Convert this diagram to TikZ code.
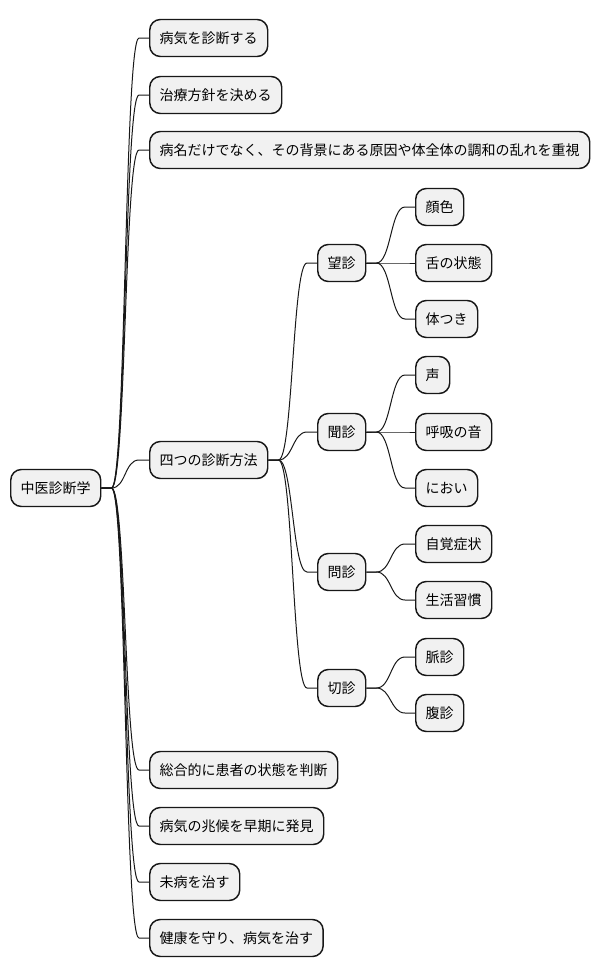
\documentclass[tikz,border=0pt]{standalone}
\usepackage{fontspec}
\usepackage{tikz}
\usetikzlibrary{positioning, calc}
\newfontfamily\cjk{Noto Sans CJK JP}
\definecolor{BoxFill}{HTML}{F1F1F1}
\definecolor{LineDark}{HTML}{181818}

\tikzset{
  topic/.style={draw=LineDark, fill=BoxFill, line width=1.1pt, rounded corners=8pt,
                anchor=west, inner xsep=7.5pt, inner ysep=0pt, minimum height=27.75pt,
                font=\cjk\fontsize{10.5pt}{12pt}\selectfont, text=black},
  branch/.style={draw=LineDark, line width=0.75pt,
                 to path={-- ([xshift=7.5pt]\tikztostart)
                   .. controls ([xshift=18.4pt]\tikztostart) and ([xshift=-18.4pt]\tikztotarget)
                   .. ([xshift=-7.5pt]\tikztotarget) -- (\tikztotarget)}}
}

\begin{document}
\begin{tikzpicture}[x=0.75pt, y=-0.75pt]
    \useasboundingbox (0,0) rectangle (600,978);

    % Root
    \node[topic] (root) at (10,488) {中医診断学};

    % First level
    \node[topic] (shindan) at (149,38)  {病気を診断する};
    \node[topic] (houshin) at (149,95)  {治療方針を決める};
    \node[topic] (haikei)  at (149,150) {病名だけでなく、その背景にある原因や体全体の調和の乱れを重視};
    \node[topic] (yotsu)   at (149,460) {四つの診断方法};
    \node[topic] (sougou)  at (149,770) {総合的に患者の状態を判断};
    \node[topic] (souki)   at (149,826) {病気の兆候を早期に発見};
    \node[topic] (mibyou)  at (149,882) {未病を治す};
    \node[topic] (kenkou)  at (149,938) {健康を守り、病気を治す};

    % Four methods
    \node[topic] (bou)   at (317,263) {望診};
    \node[topic] (bun)   at (317,432) {聞診};
    \node[topic] (mon)   at (317,572) {問診};
    \node[topic] (setsu) at (317,688) {切診};

    % Details
    \node[topic] (kaoiro)   at (415,207) {顔色};
    \node[topic] (shita)    at (415,263) {舌の状態};
    \node[topic] (karada)   at (415,319) {体つき};
    \node[topic] (koe)      at (415,375) {声};
    \node[topic] (kokyu)    at (415,432) {呼吸の音};
    \node[topic] (nioi)     at (415,488) {におい};
    \node[topic] (jikaku)   at (415,544) {自覚症状};
    \node[topic] (seikatsu) at (415,600) {生活習慣};
    \node[topic] (myaku)    at (415,657) {脈診};
    \node[topic] (fuku)     at (415,713) {腹診};

    % Links
    \foreach \c in {shindan,houshin,haikei,yotsu,sougou,souki,mibyou,kenkou}
        \draw[branch] (root.east) to (\c.west);
    \foreach \c in {bou,bun,mon,setsu}
        \draw[branch] (yotsu.east) to (\c.west);
    \foreach \c in {kaoiro,shita,karada}
        \draw[branch] (bou.east) to (\c.west);
    \foreach \c in {koe,kokyu,nioi}
        \draw[branch] (bun.east) to (\c.west);
    \foreach \c in {jikaku,seikatsu}
        \draw[branch] (mon.east) to (\c.west);
    \foreach \c in {myaku,fuku}
        \draw[branch] (setsu.east) to (\c.west);
\end{tikzpicture}
\end{document}
